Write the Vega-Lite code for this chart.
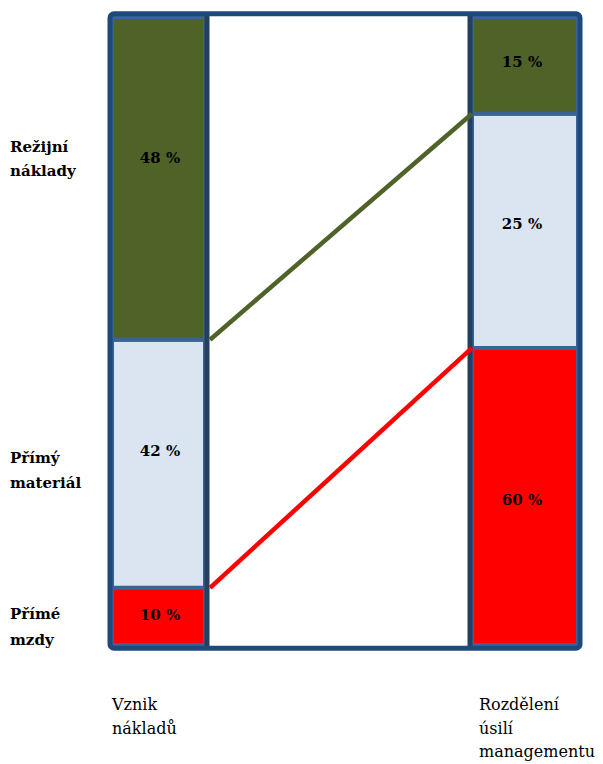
{
  "$schema": "https://vega.github.io/schema/vega-lite/v6.json",
  "width": 603,
  "height": 764,
  "autosize": "none",
  "padding": 0,
  "background": "white",
  "config": {"view": {"stroke": null}},
  "datasets": {
    "segments": [
      {"bar": "Vznik nákladů", "x0": 112, "x1": 205, "y0": 0, "y1": 9.1, "part": "Přímé mzdy"},
      {"bar": "Vznik nákladů", "x0": 112, "x1": 205, "y0": 9.1, "y1": 48.6, "part": "Přímý materiál"},
      {"bar": "Vznik nákladů", "x0": 112, "x1": 205, "y0": 48.6, "y1": 100, "part": "Režijní náklady"},
      {"bar": "Rozdělení úsilí managementu", "x0": 472, "x1": 578, "y0": 0, "y1": 47.3, "part": "Přímé mzdy"},
      {"bar": "Rozdělení úsilí managementu", "x0": 472, "x1": 578, "y0": 47.3, "y1": 84.6, "part": "Přímý materiál"},
      {"bar": "Rozdělení úsilí managementu", "x0": 472, "x1": 578, "y0": 84.6, "y1": 100, "part": "Režijní náklady"}
    ],
    "values": [
      {"label": "10 %", "x": 160, "y": 4.8},
      {"label": "42 %", "x": 160, "y": 30.9},
      {"label": "48 %", "x": 160, "y": 77.5},
      {"label": "60 %", "x": 522, "y": 23.1},
      {"label": "25 %", "x": 522, "y": 67},
      {"label": "15 %", "x": 522, "y": 92.8}
    ],
    "links": [
      {"part": "Přímé mzdy", "x": 210, "y": 9.1},
      {"part": "Přímé mzdy", "x": 472, "y": 47.3},
      {"part": "Režijní náklady", "x": 210, "y": 48.6},
      {"part": "Režijní náklady", "x": 472, "y": 84.6}
    ],
    "rowlabels": [
      {"text": "Režijní", "x": 10, "y": 79.3},
      {"text": "náklady", "x": 10, "y": 75.5},
      {"text": "Přímý", "x": 10, "y": 29.8},
      {"text": "materiál", "x": 10, "y": 25.8},
      {"text": "Přímé", "x": 10, "y": 4.9},
      {"text": "mzdy", "x": 10, "y": 0.8}
    ],
    "collabels": [
      {"text": "Vznik", "x": 112, "y": -9.55},
      {"text": "nákladů", "x": 112, "y": -13.3},
      {"text": "Rozdělení", "x": 479, "y": -9.55},
      {"text": "úsilí", "x": 479, "y": -13.4},
      {"text": "managementu", "x": 479, "y": -17.1}
    ],
    "frame": [{"x0": 110, "x1": 580, "y0": -0.5, "y1": 100.5}],
    "dividers": [{"x": 207, "y0": -0.5, "y1": 100.5}, {"x": 470, "y0": -0.5, "y1": 100.5}]
  },
  "layer": [
    {
      "data": {"name": "segments"},
      "mark": {"type": "rect", "stroke": "#3A6496", "strokeWidth": 4, "cornerRadius": 2},
      "encoding": {
        "x": {"field": "x0", "type": "quantitative", "scale": {"domain": [0, 603], "nice": false, "zero": false}, "axis": null},
        "x2": {"field": "x1"},
        "y": {"field": "y0", "type": "quantitative", "scale": {"domain": [-18.95, 102.7], "nice": false, "zero": false}, "axis": null},
        "y2": {"field": "y1"},
        "fill": {"field": "part", "type": "nominal", "scale": {"domain": ["Přímé mzdy", "Přímý materiál", "Režijní náklady"], "range": ["#FF0000", "#DBE5F1", "#4F6228"]}, "legend": null}
      }
    },
    {
      "data": {"name": "dividers"},
      "mark": {"type": "rule", "stroke": "#243F60", "strokeWidth": 5},
      "encoding": {
        "x": {"field": "x", "type": "quantitative"},
        "y": {"field": "y0", "type": "quantitative"},
        "y2": {"field": "y1"}
      }
    },
    {
      "data": {"name": "frame"},
      "mark": {"type": "rect", "fill": null, "fillOpacity": 0, "stroke": "#1F497D", "strokeWidth": 5, "cornerRadius": 4},
      "encoding": {
        "x": {"field": "x0", "type": "quantitative"},
        "x2": {"field": "x1"},
        "y": {"field": "y0", "type": "quantitative"},
        "y2": {"field": "y1"}
      }
    },
    {
      "data": {"name": "links"},
      "mark": {"type": "line", "strokeWidth": 4.5},
      "encoding": {
        "x": {"field": "x", "type": "quantitative"},
        "y": {"field": "y", "type": "quantitative"},
        "detail": {"field": "part"},
        "color": {"field": "part", "type": "nominal", "scale": {"domain": ["Přímé mzdy", "Režijní náklady"], "range": ["#FF0000", "#4F6228"]}, "legend": null}
      }
    },
    {
      "data": {"name": "values"},
      "mark": {"type": "text", "font": "DejaVu Serif", "fontWeight": "bold", "fontSize": 15, "align": "center", "baseline": "middle", "color": "black"},
      "encoding": {
        "x": {"field": "x", "type": "quantitative"},
        "y": {"field": "y", "type": "quantitative"},
        "text": {"field": "label"}
      }
    },
    {
      "data": {"name": "rowlabels"},
      "mark": {"type": "text", "font": "DejaVu Serif", "fontWeight": "bold", "fontSize": 15, "align": "left", "baseline": "middle", "color": "black"},
      "encoding": {
        "x": {"field": "x", "type": "quantitative"},
        "y": {"field": "y", "type": "quantitative"},
        "text": {"field": "text"}
      }
    },
    {
      "data": {"name": "collabels"},
      "mark": {"type": "text", "font": "DejaVu Serif", "fontSize": 16, "align": "left", "baseline": "middle", "color": "black"},
      "encoding": {
        "x": {"field": "x", "type": "quantitative"},
        "y": {"field": "y", "type": "quantitative"},
        "text": {"field": "text"}
      }
    }
  ]
}
